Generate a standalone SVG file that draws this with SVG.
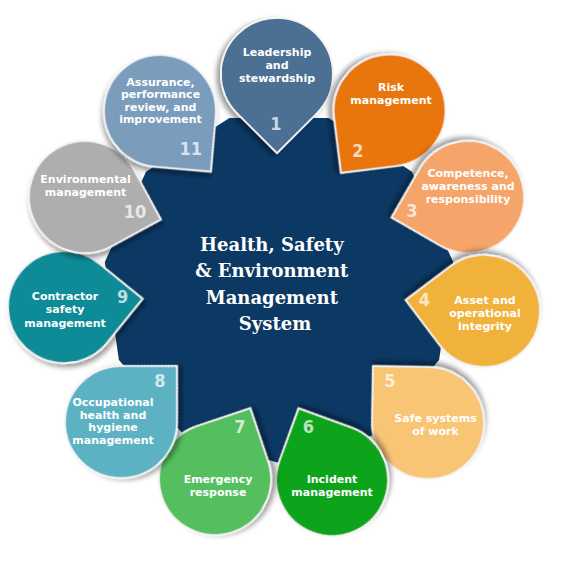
<svg xmlns="http://www.w3.org/2000/svg" xmlns:xlink="http://www.w3.org/1999/xlink" width="564" height="561" viewBox="0 0 564 561">
  <defs>
    <path id="drop" d="M79.2,0 L39.6,-39.6 A56,56 0 1 0 39.6,39.6 Z"/>
    <filter id="shadow" x="-30%" y="-30%" width="160%" height="160%">
      <feDropShadow dx="2.5" dy="3.5" stdDeviation="2.5" flood-color="#000" flood-opacity="0.4"/>
    </filter>
    <style>
      .drop { stroke: #f4f4f4; stroke-width: 1.8; filter: url(#shadow); }
      .lbl { font-family: "DejaVu Sans", Verdana, sans-serif; font-weight: bold; font-size: 11px; fill: #ffffff; text-anchor: middle; }
      .num { font-family: "DejaVu Sans", Verdana, sans-serif; font-weight: bold; font-size: 18px; font-stretch: condensed; fill: #ffffff; fill-opacity: 0.72; text-anchor: middle; }
      .hubtxt { font-family: "DejaVu Serif", "Liberation Serif", serif; font-weight: bold; font-size: 18px; fill: #ffffff; text-anchor: middle; }
    </style>
  </defs>
  <rect width="564" height="561" fill="#ffffff"/>

  <g id="hub">
    <polygon fill="#0c3964" points="279,463 183.9,435.1 118.9,360.1 104.8,262 146,171.7 229.4,118.1 328.6,118.1 412,171.7 453.2,262 439.1,360.1 374.1,435.1"/>
    <text class="hubtxt">
      <tspan x="275" y="250.5">Health, Safety</tspan>
      <tspan x="275" y="277">&amp; Environment</tspan>
      <tspan x="275" y="303.5">Management</tspan>
      <tspan x="275" y="330">System</tspan>
    </text>
  </g>

  <g id="n1">
    <use xlink:href="#drop" class="drop" fill="#4b6f94" transform="translate(277,74) rotate(90)"/>
    <text class="lbl"><tspan x="277" y="55.5">Leadership</tspan><tspan x="277" y="68.5">and</tspan><tspan x="277" y="81.5">stewardship</tspan></text>
    <text class="num" x="276" y="130">1</text>
  </g>

  <g id="n2">
    <use xlink:href="#drop" class="drop" fill="#e8760a" transform="translate(389.6,110.5) rotate(127.9)"/>
    <text class="lbl"><tspan x="391" y="90.7">Risk</tspan><tspan x="391" y="104">management</tspan></text>
    <text class="num" x="358" y="157">2</text>
  </g>

  <g id="n3">
    <use xlink:href="#drop" class="drop" fill="#f5a46a" transform="translate(468,197) rotate(165)"/>
    <text class="lbl"><tspan x="468" y="176.7">Competence,</tspan><tspan x="468" y="189.7">awareness and</tspan><tspan x="468" y="202.5">responsibility</tspan></text>
    <text class="num" x="412" y="216.5">3</text>
  </g>

  <g id="n4">
    <use xlink:href="#drop" class="drop" fill="#f0b23a" transform="translate(484,311) rotate(188)"/>
    <text class="lbl"><tspan x="485" y="304">Asset and</tspan><tspan x="485" y="317">operational</tspan><tspan x="485" y="330">integrity</tspan></text>
    <text class="num" x="424.5" y="305.5">4</text>
  </g>

  <g id="n5">
    <use xlink:href="#drop" class="drop" fill="#f8c574" transform="translate(428,423) rotate(226)"/>
    <text class="lbl"><tspan x="435.5" y="422.3">Safe systems</tspan><tspan x="435.5" y="435.3">of work</tspan></text>
    <text class="num" x="390" y="386.5">5</text>
  </g>

  <g id="n6">
    <use xlink:href="#drop" class="drop" fill="#0ea41c" transform="translate(332,480) rotate(245)"/>
    <text class="lbl"><tspan x="332" y="483.3">Incident</tspan><tspan x="332" y="496">management</tspan></text>
    <text class="num" x="308.5" y="432.5">6</text>
  </g>

  <g id="n7">
    <use xlink:href="#drop" class="drop" fill="#55bf5e" transform="translate(215,479) rotate(296.5)"/>
    <text class="lbl"><tspan x="218" y="483.3">Emergency</tspan><tspan x="218" y="496.3">response</tspan></text>
    <text class="num" x="240" y="432.5">7</text>
  </g>

  <g id="n8">
    <use xlink:href="#drop" class="drop" fill="#5bb2c3" transform="translate(121,422) rotate(315)"/>
    <text class="lbl"><tspan x="113" y="405.7">Occupational</tspan><tspan x="113" y="418.5">health and</tspan><tspan x="113" y="431.3">hygiene</tspan><tspan x="113" y="444">management</tspan></text>
    <text class="num" x="160" y="387">8</text>
  </g>

  <g id="n9">
    <use xlink:href="#drop" class="drop" fill="#0f8b97" transform="translate(64,307) rotate(-6)"/>
    <text class="lbl"><tspan x="65" y="299.7">Contractor</tspan><tspan x="65" y="313">safety</tspan><tspan x="65" y="326.5">management</tspan></text>
    <text class="num" x="122.7" y="303">9</text>
  </g>

  <g id="n10">
    <use xlink:href="#drop" class="drop" fill="#aeaeae" transform="translate(85,197) rotate(16.5)"/>
    <text class="lbl"><tspan x="85.5" y="183.3">Environmental</tspan><tspan x="85.5" y="196">management</tspan></text>
    <text class="num" x="135" y="218">10</text>
  </g>

  <g id="n11">
    <use xlink:href="#drop" class="drop" fill="#7c9cbc" transform="translate(160,111) rotate(50)"/>
    <text class="lbl"><tspan x="160.5" y="85.5">Assurance,</tspan><tspan x="160.5" y="98">performance</tspan><tspan x="160.5" y="110.5">review, and</tspan><tspan x="160.5" y="123.3">improvement</tspan></text>
    <text class="num" x="190.7" y="155">11</text>
  </g>
</svg>
